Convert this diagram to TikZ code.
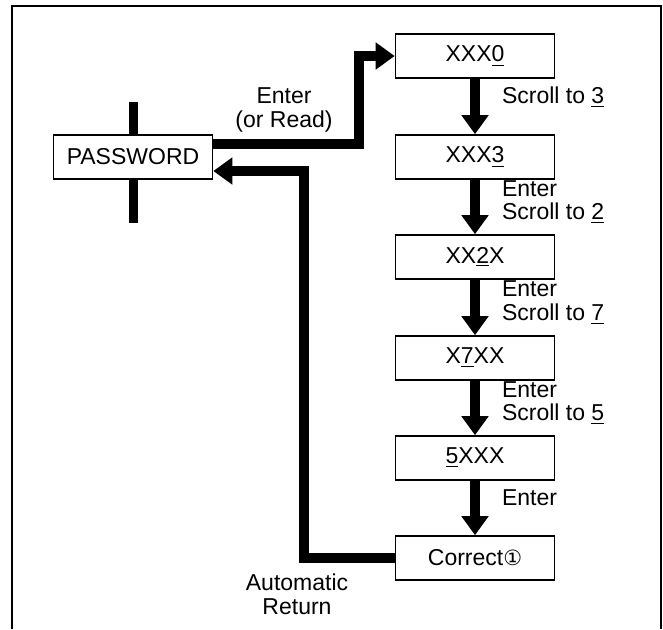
\documentclass[tikz,border=0pt]{standalone}
\usepackage{fontspec}
\setmainfont{Liberation Sans}
\newfontfamily\circfont{DejaVu Sans}
\usetikzlibrary{arrows.meta,calc}

\begin{document}
\begin{tikzpicture}[x=0.5pt, y=-0.5pt, >={Triangle[length=9.5pt,width=13pt]},
    every node/.style={font=\fontsize{11.5}{11.8}\selectfont},
    dispbox/.style={draw, fill=white, line width=0.8pt, minimum width=79.5pt, minimum height=22pt, inner sep=0pt},
    flowarrow/.style={->, line width=5pt, line join=miter},
    crossbar/.style={line width=4.5pt},
    steplbl/.style={anchor=west, align=left, inner sep=0pt, xshift=11pt, yshift=4.5pt},
    twolbl/.style={steplbl, yshift=-2pt},
    txtlbl/.style={align=center, inner sep=0pt}]
    \useasboundingbox (0,0) rectangle (663,629);

    % 1. Rahmen (oben offen nach unten)
    \draw[line width=1pt] (12,629) -- (12,6) -- (661,6) -- (661,629);

    % 2. Anzeigen
    \node[dispbox] (pwd) at (133,157) {PASSWORD};
    \node[dispbox] (x0)  at (475,56)  {XXX\underline{0}};
    \node[dispbox] (x3)  at (475,157) {XXX\underline{3}};
    \node[dispbox] (x2)  at (475,257) {XX\underline{2}X};
    \node[dispbox] (x7)  at (475,358) {X\underline{7}XX};
    \node[dispbox] (x5)  at (475,458) {\underline{5}XXX};
    \node[dispbox] (cor) at (475,558) {Correct{\circfont\fontsize{10.5}{11}\selectfont ①}};

    % 3. Balken durch PASSWORD
    \draw[crossbar] (pwd.north) -- ++(0,-32);
    \draw[crossbar] (pwd.south) -- ++(0,43);

    % 4. Schritte nach unten
    \draw[flowarrow] (x0) -- node[steplbl] {Scroll to \underline{3}} (x3);
    \draw[flowarrow] (x3) -- node[twolbl] {Enter\\Scroll to \underline{2}} (x2);
    \draw[flowarrow] (x2) -- node[twolbl] {Enter\\Scroll to \underline{7}} (x7);
    \draw[flowarrow] (x7) -- node[twolbl] {Enter\\Scroll to \underline{5}} (x5);
    \draw[flowarrow] (x5) -- node[steplbl, yshift=0.5pt] {Enter} (cor);

    % 5. Einstieg und Rueckkehr
    \draw[flowarrow] ([yshift=6.5pt]pwd.east) -| ($(x0.west)+(-36,0)$) -- (x0.west);
    \node[txtlbl] (enterlbl) at (284,110) {Enter\\(or Read)};
    \draw[flowarrow] (cor.west) -| ($(pwd.east)+(91,14)$) -- ($(pwd.east)+(0,14)$);
    \node[txtlbl] (retlbl) at (297,594) {Automatic\\Return};
\end{tikzpicture}
\end{document}
